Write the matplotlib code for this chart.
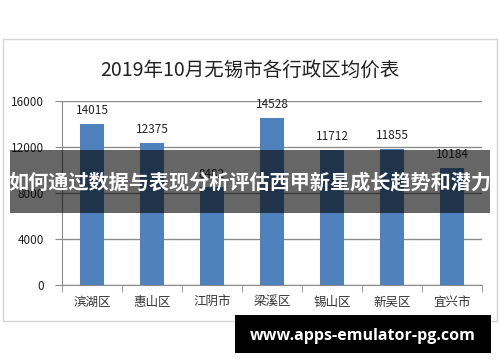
import matplotlib
matplotlib.use("Agg")
import matplotlib.pyplot as plt
from matplotlib import patches
import numpy as np

plt.rcParams['font.family'] = ['Noto Sans CJK SC', 'DejaVu Sans']

# data
districts = ['滨湖区', '惠山区', '江阴市', '梁溪区', '锡山区', '新吴区', '宜兴市']
prices = [14015, 12375, 8482, 14528, 11712, 11855, 10184]
yticks = [0, 4000, 8000, 12000, 16000]
title = '2019年10月无锡市各行政区均价表'
banner = '如何通过数据与表现分析评估西甲新星成长趋势和潜力'
site = 'www.apps-emulator-pg.com'

W, H = 500, 362
fig = plt.figure(figsize=(W / 100, H / 100), dpi=100)
fig.patch.set_facecolor('white')

def px(x0, y0, x1, y1):
    # pixel box (top-left origin) -> figure coords
    return [x0 / W, 1 - y1 / H, (x1 - x0) / W, (y1 - y0) / H]

# chart frame
b = px(3, 39, 497, 321)
fig.patches.append(patches.Rectangle((b[0], b[1]), b[2], b[3], transform=fig.transFigure,
                                     fill=False, edgecolor='#d4d4d4', lw=1))
fig.text(250 / W, 1 - 70 / H, title, ha='center', va='center', fontsize=14, color='#222222')

ax = fig.add_axes(px(62, 101, 482, 285))
x = np.arange(len(districts))
ax.bar(x, prices, width=0.4, color='#4f81bd', zorder=3)
for xi, v in zip(x, prices):
    ax.annotate(str(v), (xi, v), xytext=(0, 5), textcoords='offset points',
                ha='center', va='bottom', fontsize=8.5, color='#222222')

ax.set_xlim(-0.5, len(districts) - 0.5)
ax.set_ylim(0, 16000)
ax.set_yticks(yticks)
ax.set_yticklabels([str(t) for t in yticks], fontsize=8.5, color='#222222')
ax.yaxis.grid(True, color='#8c8c8c', lw=1, zorder=0)
ax.tick_params(axis='y', length=5, color='#8c8c8c', pad=8)
ax.set_xticks(x)
ax.set_xticklabels(districts, fontsize=9, color='#333333')
ax.set_xticks(np.arange(-0.5, len(districts)), minor=True)
ax.tick_params(axis='x', which='major', length=0, pad=8)
ax.tick_params(axis='x', which='minor', length=5, color='#8c8c8c')
for s in ['top', 'right']:
    ax.spines[s].set_visible(False)
for s in ['left', 'bottom']:
    ax.spines[s].set_color('#8c8c8c')

# overlay banner
b = px(10, 150, 490, 213)
fig.patches.append(patches.Rectangle((b[0], b[1]), b[2], b[3], transform=fig.transFigure,
                                     facecolor='black', alpha=0.6, edgecolor='none', zorder=10))
fig.text(250 / W, 1 - 182 / H, banner, ha='center', va='center', fontsize=14.5,
         fontweight='bold', color='white', zorder=11)

# site box
b = px(235, 315, 491, 353)
fig.patches.append(patches.Rectangle((b[0], b[1]), b[2], b[3], transform=fig.transFigure,
                                     facecolor='black', edgecolor='none', zorder=10))
fig.text(363 / W, 1 - 336 / H, site, ha='center', va='center', fontsize=11.5,
         fontweight='bold', color='white', family='Open Sans', zorder=11)

fig.savefig('out.png', dpi=100)
